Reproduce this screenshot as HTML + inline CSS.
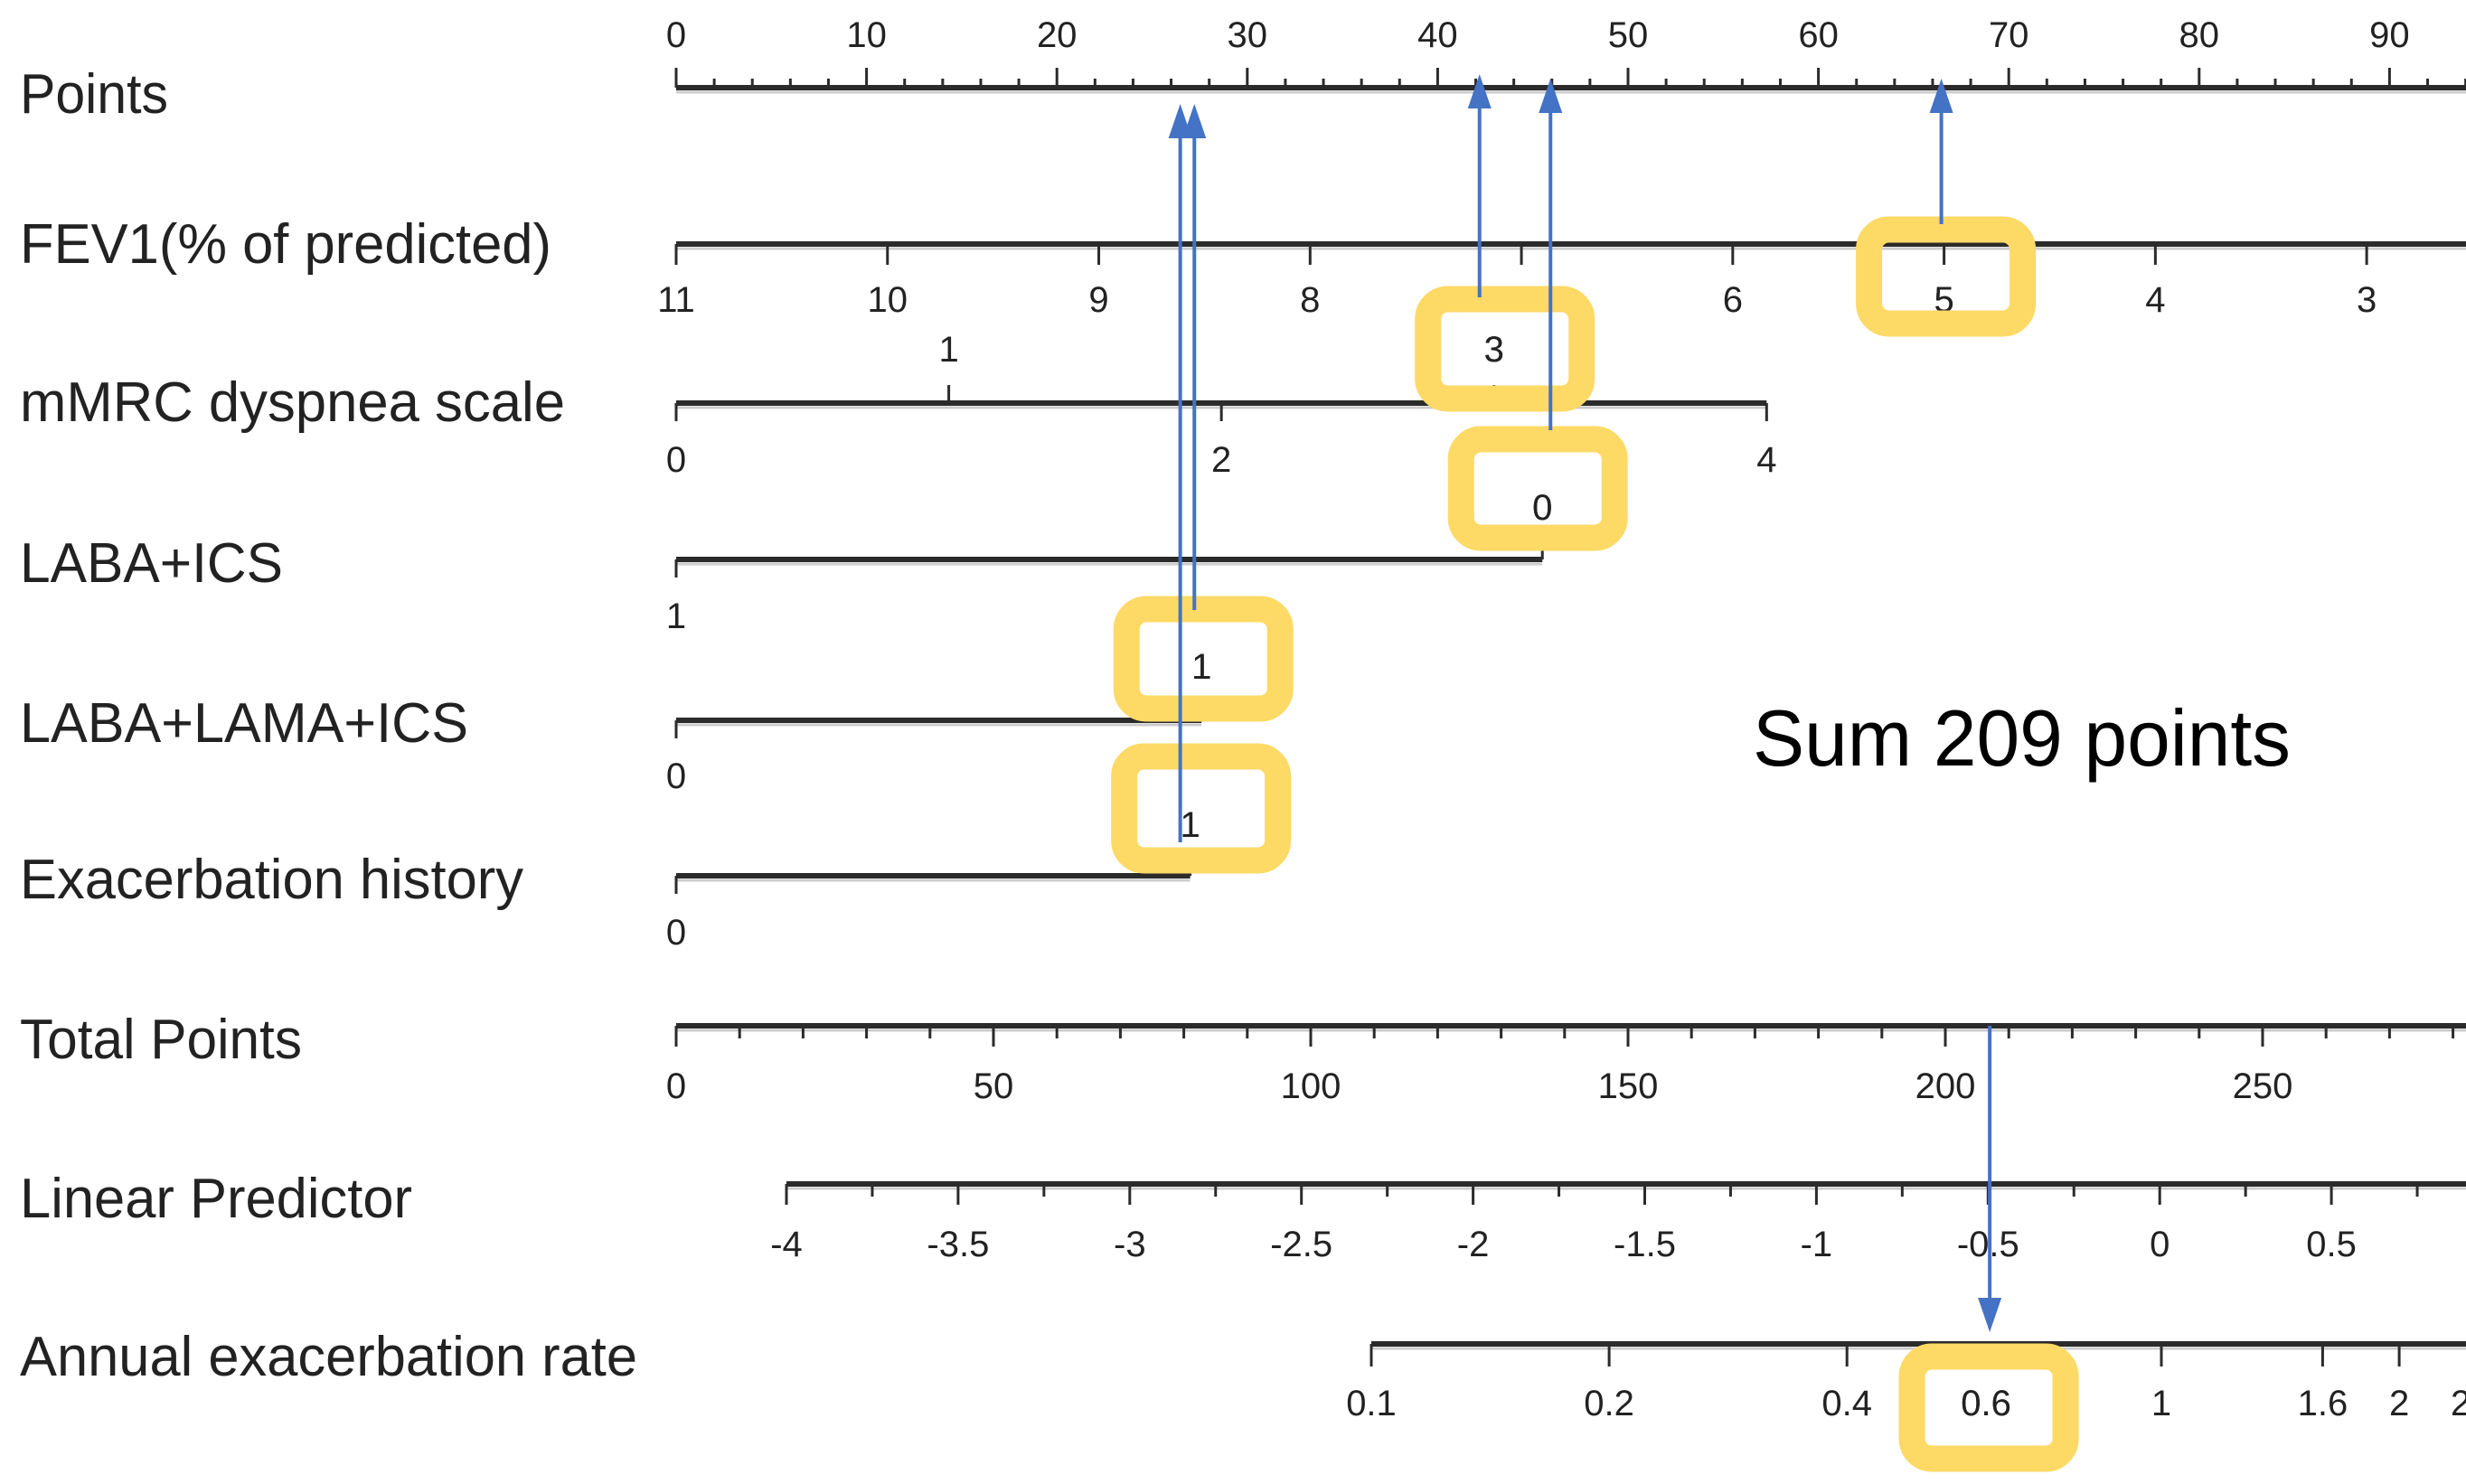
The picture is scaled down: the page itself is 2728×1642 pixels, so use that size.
<!DOCTYPE html>
<html><head><meta charset="utf-8"><style>
html,body{margin:0;padding:0;background:#fff;}
svg{display:block;}
text{font-family:"Liberation Sans",Arial,sans-serif;fill:#222;}
</style></head>
<body>
<svg id="chart" width="2728" height="1642" viewBox="0 0 2728 1642" xmlns="http://www.w3.org/2000/svg">
<g id="labels"></g>
<g id="axes"></g>
<g id="boxes"></g>
<g id="arrows"></g>
<text x="1939" y="847" font-size="88" textLength="595" lengthAdjust="spacingAndGlyphs" style="fill:#000">Sum 209 points</text>
</svg>
<script>
// ---- data ----
const rowNames = ["Points","FEV1(% of predicted)","mMRC dyspnea scale","LABA+ICS","LABA+LAMA+ICS","Exacerbation history","Total Points","Linear Predictor","Annual exacerbation rate"];
const pointsTicks = [0,10,20,30,40,50,60,70,80,90];
const fev1Levels = [11,10,9,8,7,6,5,4,3];
const fev1PointsPerUnit = 11.1;           // points per 1 unit of FEV1 decrease
const mmrcLevels = [0,1,2,3,4];
const mmrcPointsPerUnit = 14.32;
const labaIcsLevels = [1,0];
const labaIcsPoints = [0,45.5];
const tripleLevels = [0,1];
const triplePoints = [0,27.6];
const exacLevels = [0,1];
const exacPoints = [0,27.0];
const totalTicks = [0,50,100,150,200,250];
const lpTicks = [-4,-3.5,-3,-2.5,-2,-1.5,-1,-0.5,0,0.5];
const rateTicks = [0.1,0.2,0.4,0.6,1,1.6,2,2.5];
const selFev1 = 5, selMmrc = 3, selLabaIcs = 0, selTriple = 1, selExac = 1;
const selTotal = 207;
const selRate = 0.6;

// ---- scales ----
const X0 = 748;
const xPts = p => X0 + p * 21.06;
const xTot = t => X0 + t * 7.02;
const xLP = v => 870 + (v + 4) * 379.8;
const xRate = r => 1517 + 874 * Math.log10(r / 0.1);

const NS = "http://www.w3.org/2000/svg";
function mk(tag, parent, attrs){
  const e = document.createElementNS(NS, tag);
  for (const k in attrs) e.setAttribute(k, attrs[k]);
  parent.appendChild(e);
  return e;
}
const gL = document.getElementById('labels');
const gA = document.getElementById('axes');
const gB = document.getElementById('boxes');
const gR = document.getElementById('arrows');

// row labels
const labelBase = [125,291,466,644,821,994,1171,1347,1522];
const labelW = [164,588,603,291,496,557,312,434,683];
rowNames.forEach((n,i)=>{
  const t = mk('text', gL, {x:22, y:labelBase[i], 'font-size':62, textLength:labelW[i], lengthAdjust:'spacingAndGlyphs'});
  
  
  t.textContent = n;
});

function axisLine(x1,x2,y,name){
  const l = mk('line', gA, {x1:x1, x2:x2, y1:y, y2:y, stroke:'#2b2b2b', 'stroke-width':6});
  
  
  mk('line', gA, {x1:x1, x2:x2, y1:y+5, y2:y+5, stroke:'#ccc', 'stroke-width':3});
}
function tick(x,y,len){
  const l = mk('line', gA, {x1:x, x2:x, y1:y, y2:y+len, stroke:'#2b2b2b', 'stroke-width':3});
  
  
}
function tlabel(x,y,s){
  const t = mk('text', gA, {x:x, y:y, 'font-size':40, 'text-anchor':'middle'});
  
  
  t.textContent = s;
}

// Points axis
axisLine(X0, 2728, 97, 'points-axis');
for (let p=0; p<=94; p+=2) tick(xPts(p), 97, p%10===0 ? -22 : -10);
pointsTicks.forEach(p=>tlabel(xPts(p), 52, p));

// FEV1
const xFev = v => xPts((11 - v) * fev1PointsPerUnit);
axisLine(X0, 2728, 270, 'fev1-axis');
fev1Levels.forEach(v=>{ tick(xFev(v), 270, 23); tlabel(xFev(v), 345, v); });

// mMRC
const xMm = v => xPts(v * mmrcPointsPerUnit);
axisLine(X0, xMm(4), 446, 'mmrc-axis');
mmrcLevels.forEach(v=>{
  if (v%2===0){ tick(xMm(v), 446, 20); tlabel(xMm(v), 522, v); }
  else { tick(xMm(v), 446, -20); tlabel(xMm(v), 400, v); }
});

// LABA+ICS
const xLI = i => xPts(labaIcsPoints[i]);
axisLine(X0, xLI(1), 619, 'laba-ics-axis');
tick(xLI(0), 619, 20); tlabel(xLI(0), 695, labaIcsLevels[0]);
tick(xLI(1), 619, -20); tlabel(xLI(1), 575, labaIcsLevels[1]);

// LABA+LAMA+ICS
const xTr = i => xPts(triplePoints[i]);
axisLine(X0, xTr(1), 797, 'laba-lama-ics-axis');
tick(xTr(0), 797, 20); tlabel(xTr(0), 872, tripleLevels[0]);
tick(xTr(1), 797, -20); tlabel(xTr(1), 751, tripleLevels[1]);

// Exacerbation history
const xEx = i => xPts(exacPoints[i]);
axisLine(X0, xEx(1), 969, 'exacerbation-axis');
tick(xEx(0), 969, 20); tlabel(xEx(0), 1045, exacLevels[0]);
tick(xEx(1), 969, -20); tlabel(xEx(1), 926, exacLevels[1]);

// Total points
axisLine(X0, 2728, 1135, 'total-points-axis');
for (let t=0; t<=282; t+=10) tick(xTot(t), 1135, t%50===0 ? 23 : 14);
totalTicks.forEach(t=>tlabel(xTot(t), 1215, t));

// Linear predictor
axisLine(xLP(-4), 2728, 1310, 'linear-predictor-axis');
for (let v=-4; v<=0.9; v+=0.25) tick(xLP(v), 1310, Math.abs(v*2-Math.round(v*2))<1e-6 ? 23 : 14);
lpTicks.forEach(v=>tlabel(xLP(v), 1390, v));

// Annual rate
axisLine(xRate(0.1), 2728, 1487, 'annual-rate-axis');
rateTicks.forEach(r=>{ tick(xRate(r), 1487, 25); tlabel(xRate(r), 1566, r); });

// highlight boxes
function box(cx, y1, y2){
  const r = mk('rect', gB, {x:cx-85, y:y1+14, width:170, height:y2-y1-28, rx:22, fill:'none', stroke:'#FDD966', 'stroke-width':29});
  
  
}
box(xFev(selFev1)+2, 240, 372);
box(xMm(selMmrc)+12, 317, 455);
box(xLI(labaIcsLevels.indexOf(selLabaIcs))-5, 472, 609);
box(xTr(tripleLevels.indexOf(selTriple))+2, 660, 798);
box(xEx(exacLevels.indexOf(selExac))+12, 823, 966);
box(xRate(selRate)+3, 1487, 1628);
// redraw box-covered labels
tlabel(xFev(selFev1), 345, selFev1);
tlabel(xMm(selMmrc), 400, selMmrc);
tlabel(xLI(1), 575, selLabaIcs);
tlabel(xTr(1), 751, selTriple);
tlabel(xEx(1), 926, selExac);
tlabel(xRate(selRate), 1566, selRate);

// arrows
function arrowUp(x, yBottom, yTip){
  const l = mk('line', gR, {x1:x, x2:x, y1:yBottom, y2:yTip+30, stroke:'#4472C4', 'stroke-width':4});
  
  
  const p = mk('polygon', gR, {points:`${x-13},${yTip+38} ${x+13},${yTip+38} ${x},${yTip}`, fill:'#4472C4'});
  
  
}
arrowUp(xFev(selFev1)-3, 248, 87);
arrowUp(xMm(selMmrc)-16, 329, 82);
arrowUp(xLI(1)+9, 476, 87);
arrowUp(xTr(1)-8, 675, 115);
arrowUp(xEx(1)-11, 932, 115);
const xd = xTot(selTotal);
const dl = mk('line', gR, {x1:xd, x2:xd, y1:1135, y2:1440, stroke:'#4472C4', 'stroke-width':4});


const dp = mk('polygon', gR, {points:`${xd-13},${1436} ${xd+13},${1436} ${xd},${1474}`, fill:'#4472C4'});


</script>
</body></html>
